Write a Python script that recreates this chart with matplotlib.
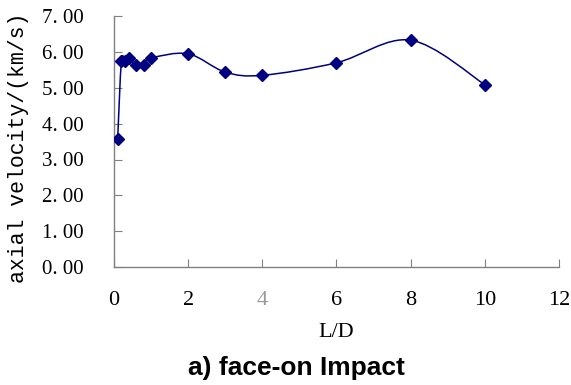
import numpy as np
import matplotlib.pyplot as plt
from matplotlib.path import Path
from matplotlib.patches import PathPatch

# ------------------------
# Data
# ------------------------
ld_ratio = [0.1, 0.2, 0.3, 0.4, 0.6, 0.8, 1.0, 2, 3, 4, 6, 8, 10]
axial_velocity = [3.58, 5.74, 5.75, 5.84, 5.63, 5.65, 5.83, 5.95, 5.44, 5.35, 5.70, 6.33, 5.09]

x_ticks = [0, 2, 4, 6, 8, 10, 12]
y_ticks = [0, 1, 2, 3, 4, 5, 6, 7]
y_tick_labels = ["0. 00", "1. 00", "2. 00", "3. 00", "4. 00", "5. 00", "6. 00", "7. 00"]

NAVY = "#000080"
GREY = "#808080"
SERIF = ["Liberation Serif", "DejaVu Serif"]
MONO = ["Liberation Mono", "DejaVu Sans Mono"]


def smooth_path(x, y):
    # Excel-style smoothed line: cubic Bezier, tangents from neighbouring points
    pts = np.column_stack([x, y]).astype(float)
    n = len(pts)
    verts = [pts[0]]
    codes = [Path.MOVETO]
    for i in range(n - 1):
        p0 = pts[max(i - 1, 0)]
        p1 = pts[i]
        p2 = pts[i + 1]
        p3 = pts[min(i + 2, n - 1)]
        verts += [p1 + (p2 - p0) / 6, p2 - (p3 - p1) / 6, p2]
        codes += [Path.CURVE4] * 3
    return Path(verts, codes)


fig = plt.figure(figsize=(5.71, 3.85), dpi=100)
ax = fig.add_axes([0.1996, 0.3065, 0.7794, 0.6515])

ax.add_patch(PathPatch(smooth_path(ld_ratio, axial_velocity), facecolor="none",
                       edgecolor=NAVY, lw=1.1, zorder=2))
ax.plot(ld_ratio, axial_velocity, linestyle="none", marker="D", ms=6,
        color=NAVY, zorder=3)

ax.set_xlim(0, 12)
ax.set_ylim(0, 7)
ax.set_xticks(x_ticks)
ax.set_yticks(y_ticks)
ax.set_yticklabels(y_tick_labels)

for side in ["top", "right"]:
    ax.spines[side].set_visible(False)
for side in ["left", "bottom"]:
    ax.spines[side].set_color(GREY)
    ax.spines[side].set_linewidth(1.0)

ax.tick_params(axis="both", direction="in", length=6, color=GREY, labelsize=15)
ax.tick_params(axis="y", pad=22)
ax.tick_params(axis="x", pad=17, labelsize=16)
for lab in ax.get_xticklabels() + ax.get_yticklabels():
    lab.set_family(SERIF)
ax.get_xticklabels()[2].set_color("#999999")

ax.set_xlabel("L/D", family=SERIF, fontsize=16)
ax.xaxis.set_label_coords(0.5, -0.225)
ax.set_ylabel("axial velocity/(km/s)", family=MONO, fontsize=15.5)
ax.yaxis.set_label_coords(-0.19, 0.475)

fig.text(0.52, 0.044, "a) face-on Impact", ha="center", va="center",
         family=["Liberation Sans", "DejaVu Sans"], fontweight="bold", fontsize=19)

fig.savefig("out.png", dpi=100)
